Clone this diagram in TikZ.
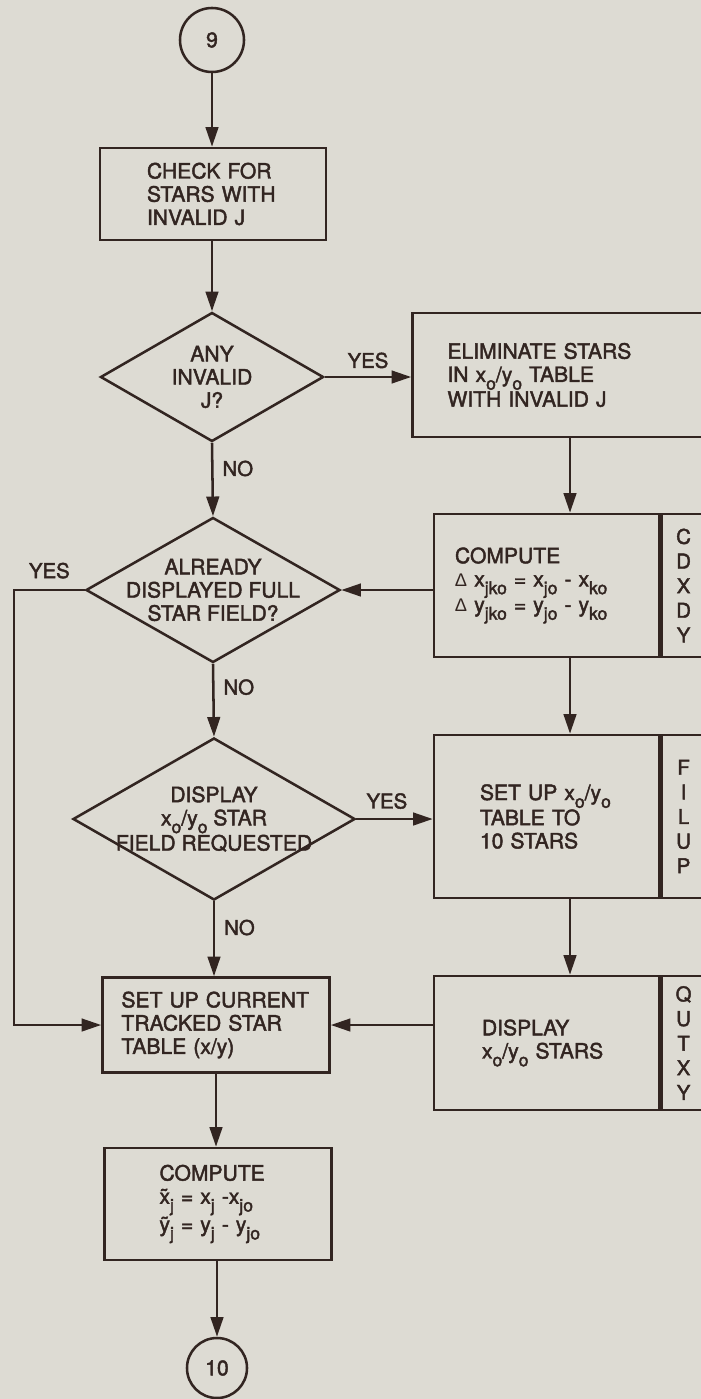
\documentclass[tikz,border=0pt]{standalone}
\usepackage{fontspec}
\setmainfont{TeX Gyre Heros}[FakeBold=2]
\newfontfamily\deltafont{Liberation Sans}
\usepackage{xcolor}
\usepackage{tikz}
\usetikzlibrary{arrows.meta,shapes.geometric,positioning}
\definecolor{ChartPaper}{RGB}{221,219,211}
\definecolor{ChartInk}{RGB}{50,37,33}
\newcommand\lo[1]{\raisebox{-0.7ex}{\fontsize{12.5}{12.5}\selectfont #1}}
\newcommand\dlt{{\deltafont\fontsize{13}{13}\selectfont Δ}}

\begin{document}
\begin{tikzpicture}[x=0.025cm,y=-0.025cm,
    flowbox/.style={draw=ChartInk,line width=1.8pt,rectangle,inner ysep=0pt,align=left,text=ChartInk,font=\fontsize{15}{16.5}\selectfont},
    tagbox/.style={draw=ChartInk,line width=1.8pt,rectangle,inner sep=0pt,minimum width=1.1cm,anchor=north west,align=center,text=ChartInk,font=\fontsize{14.5}{17.5}\selectfont},
    decision/.style={draw=ChartInk,line width=1.8pt,diamond,inner sep=0pt},
    tagtext/.style={align=center,text=ChartInk,font=\fontsize{15}{16.5}\selectfont},
    connector/.style={circle,draw=ChartInk,line width=1.8pt,inner sep=0pt,text=ChartInk,font=\fontsize{15}{15}\selectfont},
    flow/.style={ChartInk,line width=1.8pt,-{Triangle[length=14pt,width=9pt]}},
    answer/.style={text=ChartInk,font=\fontsize{14.5}{14.5}\selectfont}]
  \fill[ChartPaper] (0,0) rectangle (701,1399);
  \useasboundingbox (0,0) rectangle (701,1399);
  \clip (0,0) rectangle (701,1399);

  \node[connector,minimum size=1.6cm] (c9) at (212,40) {9};
  \node[flowbox,minimum height=2.3cm,text width=3.3cm,inner xsep=1.175cm] (check) at (213,194)
    {CHECK FOR\\STARS WITH\\INVALID J};
  \node[decision,minimum width=5.575cm,minimum height=3.225cm] (anyinv) at (212,377) {};
  \node[tagtext] (anyinvtxt) at (anyinv.center) {ANY\\INVALID\\J?};
  \node[flowbox,minimum height=3.1cm,text width=6.175cm,inner xsep=0.875cm] (elim) at (571,375)
    {ELIMINATE STARS\\IN x\lo{o}/y\lo{o} TABLE\\WITH INVALID J};

  \node[decision,minimum width=6.35cm,minimum height=3.625cm] (already) at (213,590) {};
  \node[tagtext] (alreadytxt) at (already.center) {ALREADY\\DISPLAYED FULL\\STAR FIELD?};
  \node[flowbox,minimum height=3.575cm,text width=4.575cm,inner xsep=0.525cm] (cdxdy) at (546.5,585.5)
    {COMPUTE\\\dlt\ x\lo{jko} = x\lo{jo} - x\lo{ko}\\\dlt\ y\lo{jko} = y\lo{jo} - y\lo{ko}};
  \node[tagbox,minimum height=3.575cm] (cdxdytag) at (cdxdy.north east) {C\\D\\X\\D\\Y};

  \node[decision,minimum width=7.05cm,minimum height=4.05cm] (dispreq) at (214,819) {};
  \node[tagtext] (dispreqtxt) at (dispreq.center) {DISPLAY\\x\lo{o}/y\lo{o} STAR\\FIELD REQUESTED};
  \node[flowbox,minimum height=4.075cm,text width=3.325cm,inner xsep=1.15cm] (filup) at (546.5,816.5)
    {SET UP x\lo{o}/y\lo{o}\\TABLE TO\\10 STARS};
  \node[tagbox,minimum height=4.075cm] (filuptag) at (filup.north east) {F\\I\\L\\U\\P};

  \node[flowbox,minimum height=3.35cm,text width=3.225cm,inner xsep=1.2cm] (qutxy) at (546.5,1043)
    {DISPLAY\\x\lo{o}/y\lo{o} STARS};
  \node[tagbox,minimum height=3.35cm] (qutxytag) at (qutxy.north east) {Q\\U\\T\\X\\Y};

  \node[flowbox,minimum height=2.375cm,text width=4.725cm,inner xsep=0.475cm] (current) at (216,1025)
    {SET UP CURRENT\\TRACKED STAR\\TABLE (x/y)};
  \node[flowbox,minimum height=2.8cm,text width=2.925cm,inner xsep=1.375cm] (relpos) at (218,1204)
    {COMPUTE\\\~{x}\lo{j} = x\lo{j} -x\lo{jo}\\\~{y}\lo{j} = y\lo{j} - y\lo{jo}};
  \node[connector,minimum size=1.5cm] (c10) at (217,1368) {10};

  \coordinate (rightcol) at (570,0);
  \coordinate (yesloop) at (14,0);

  \draw[flow] (c9.south) -- (c9.south |- check.north);
  \draw[flow] (check.south -| anyinv.north) -- (anyinv.north);
  \draw[flow] (anyinv.east) -- (anyinv.east -| elim.west) node[answer,midway,above=2pt] {YES};
  \draw[flow] (anyinv.south) -- (already.north) node[answer,pos=0.35,right=3pt] {NO};
  \draw[flow] (elim.south -| rightcol) -- (cdxdy.north -| rightcol);
  \draw[flow] (already.east -| cdxdy.west) -- (already.east);
  \draw[flow] (already.west) -- (already.west -| yesloop) node[answer,midway,above=4pt] {YES}
    |- (current.west);
  \draw[flow] (already.south) -- (dispreq.north) node[answer,pos=0.32,right=3pt] {NO};
  \draw[flow] (cdxdy.south -| rightcol) -- (filup.north -| rightcol);
  \draw[flow] (dispreq.east) -- (dispreq.east -| filup.west) node[answer,pos=0.4,above=3pt] {YES};
  \draw[flow] (dispreq.south) -- (dispreq.south |- current.north) node[answer,pos=0.35,right=3pt] {NO};
  \draw[flow] (filup.south -| rightcol) -- (qutxy.north -| rightcol);
  \draw[flow] (current.east -| qutxy.west) -- (current.east);
  \draw[flow] (current.south) -- (current.south |- relpos.north);
  \draw[flow] (relpos.south -| c10.north) -- (c10.north);
\end{tikzpicture}
\end{document}
